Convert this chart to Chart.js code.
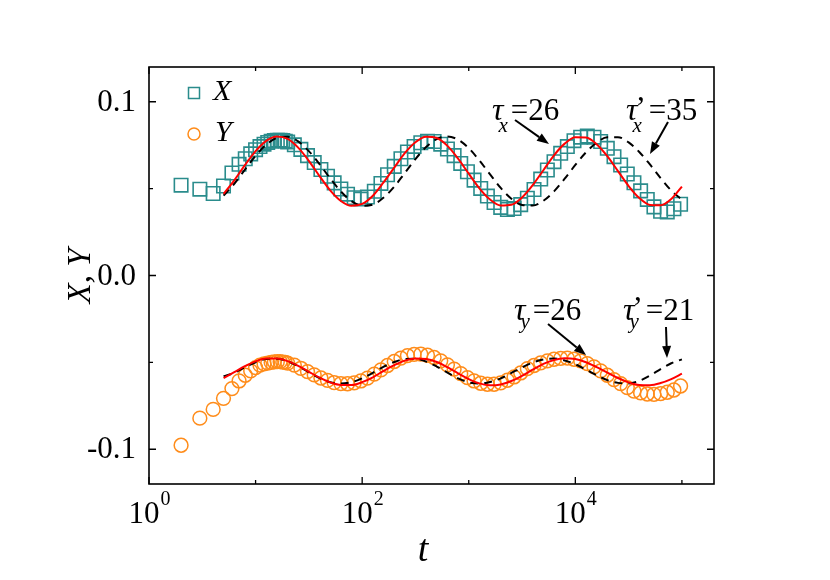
<!DOCTYPE html>
<html lang="en">
  <head>
    <meta charset="UTF-8" />
    <title>X, Y vs t</title>
    <script src="https://cdn.jsdelivr.net/npm/chart.js"></script>
    <style>
      body {
        margin: 0;
        background: #fff;
        font-family: "Liberation Serif", "Times New Roman", serif;
      }
      #wrap {
        width: 830px;
        height: 580px;
      }
      #warm {
        position: absolute;
        left: -9999px;
      }
    </style>
  </head>
  <body>
    <div id="warm">10 <i>X, Y t</i> &#964;</div>
    <div id="wrap"><canvas id="plot" width="830" height="580"></canvas></div>
    <script>
      // measured points (same t grid for X and Y)
      const tData = [
        2, 3, 4, 5, 6, 7, 8, 9, 10, 11, 12, 13, 14, 15, 16, 17, 18, 19, 20,
        23.1, 26.6, 30.7, 35.5, 41.0, 47.3, 54.6, 63.1, 72.9, 84.1, 97.2,
        112, 130, 150, 173, 200, 231, 266, 307, 355, 410, 473, 546, 631, 729,
        841, 972, 1122, 1295, 1496, 1728, 1995, 2305, 2661, 3073, 3548, 4097,
        4732, 5464, 6310, 7286, 8414, 9716, 11220, 12953, 14962, 17278, 19953,
        23052, 26607, 30726, 35481, 40973, 47315, 54639, 63096, 72862, 84140,
        97163,
      ];
      const xData = [
        0.052, 0.0497, 0.0472, 0.0515, 0.059, 0.064, 0.0672, 0.07, 0.0724,
        0.0742, 0.0756, 0.0766, 0.0773, 0.0777, 0.0779, 0.0779, 0.0777,
        0.0773, 0.0768, 0.0752, 0.0726, 0.069, 0.065, 0.061, 0.0571, 0.0533,
        0.0498, 0.0468, 0.0448, 0.044, 0.0452, 0.0485, 0.053, 0.058, 0.0628,
        0.0672, 0.0711, 0.0743, 0.0764, 0.0773, 0.0771, 0.0756, 0.0728, 0.069,
        0.0645, 0.0597, 0.0549, 0.0501, 0.0457, 0.042, 0.0392, 0.038, 0.0385,
        0.0408, 0.0445, 0.0495, 0.0555, 0.0607, 0.0655, 0.0703, 0.0742,
        0.0776, 0.0796, 0.0803, 0.0796, 0.0771, 0.0732, 0.0684, 0.0636,
        0.0584, 0.0534, 0.0487, 0.0438, 0.0395, 0.037, 0.0366, 0.0384, 0.041,
      ];
      const yData = [
        -0.0977, -0.0821, -0.0771, -0.0707, -0.0651, -0.0607, -0.0574,
        -0.0549, -0.053, -0.0516, -0.0509, -0.0504, -0.05, -0.0497, -0.0496,
        -0.0496, -0.0498, -0.05, -0.0504, -0.0516, -0.0534, -0.0553, -0.0572,
        -0.059, -0.0604, -0.0616, -0.0622, -0.0623, -0.0618, -0.0607, -0.0591,
        -0.0568, -0.0543, -0.0518, -0.0495, -0.0476, -0.0461, -0.0454,
        -0.0453, -0.0459, -0.0472, -0.0491, -0.0514, -0.0539, -0.0565,
        -0.0588, -0.0607, -0.062, -0.0626, -0.0626, -0.0618, -0.0603, -0.0584,
        -0.0561, -0.0536, -0.0518, -0.0503, -0.0491, -0.0482, -0.0477,
        -0.0476, -0.0482, -0.0491, -0.0507, -0.0526, -0.0549, -0.0574,
        -0.0599, -0.0622, -0.0645, -0.0665, -0.0676, -0.0682, -0.0684,
        -0.068, -0.0672, -0.0659, -0.0636,
      ];

      // fitted curves (tau) and (tau')
      const tFit = [
        5.01, 6.31, 7.94, 10, 12.6, 15.8, 20, 25.1, 31.6, 39.8, 50.1, 63.1,
        79.4, 100, 126, 158, 200, 251, 316, 398, 501, 631, 794, 1000, 1259,
        1585, 1995, 2512, 3162, 3981, 5012, 6310, 7943, 10000, 12589, 15849,
        19953, 25119, 31623, 39811, 50119, 63096, 79433, 100000,
      ];
      const xFit = [
        0.047, 0.0548, 0.0635, 0.0716, 0.0775, 0.08, 0.0786, 0.0736, 0.066,
        0.0572, 0.049, 0.0429, 0.0401, 0.0412, 0.0459, 0.0534, 0.0621,
        0.0704, 0.0767, 0.0798, 0.0791, 0.0746, 0.0673, 0.0586, 0.0502,
        0.0437, 0.0403, 0.0407, 0.0449, 0.052, 0.0606, 0.0692, 0.0759,
        0.0796, 0.0794, 0.0756, 0.0687, 0.0601, 0.0515, 0.0446, 0.0406,
        0.0404, 0.044, 0.0512,
      ];
      const xFitP = [
        0.046, 0.0528, 0.0609, 0.0689, 0.0753, 0.0792, 0.0798, 0.0772,
        0.0716, 0.0641, 0.0559, 0.0484, 0.0428, 0.0402, 0.0408, 0.0447,
        0.0511, 0.059, 0.067, 0.0739, 0.0785, 0.08, 0.0782, 0.0733, 0.0662,
        0.0582, 0.0504, 0.0442, 0.0406, 0.0403, 0.043, 0.0484, 0.0557,
        0.0636, 0.0709, 0.0765, 0.0796, 0.0796, 0.0766, 0.0711, 0.0639,
        0.0561, 0.0489, 0.0436,
      ];
      const yFit = [
        -0.059, -0.0556, -0.0522, -0.0494, -0.0478, -0.0478, -0.0493, -0.052,
        -0.0554, -0.0588, -0.0615, -0.063, -0.063, -0.0614, -0.0586, -0.055,
        -0.0516, -0.049, -0.0477, -0.048, -0.0498, -0.0528, -0.0563, -0.0596,
        -0.0621, -0.0632, -0.0627, -0.0607, -0.0577, -0.0542, -0.0509,
        -0.0486, -0.0476, -0.0481, -0.0499, -0.0527, -0.0559, -0.059,
        -0.0615, -0.063, -0.0631, -0.0619, -0.0596, -0.0565,
      ];
      const yFitP = [
        -0.058, -0.056, -0.0529, -0.0499, -0.0481, -0.0479, -0.0494, -0.0522,
        -0.0557, -0.059, -0.0614, -0.0622, -0.0614, -0.0592, -0.056, -0.0526,
        -0.0498, -0.0481, -0.0479, -0.0495, -0.0524, -0.0559, -0.0592,
        -0.0615, -0.0622, -0.0613, -0.0592, -0.0561, -0.0529, -0.0501,
        -0.0483, -0.0478, -0.0489, -0.0511, -0.0542, -0.0574, -0.0602,
        -0.0618, -0.0621, -0.0606, -0.0576, -0.0539, -0.0505, -0.0483,
      ];

      // axes
      const xMajor = [1, 100, 10000];
      const xExp = ["0", "2", "4"];
      const xMinor = [10, 1000, 100000];
      const yMajor = [-0.1, 0, 0.1];
      const yLabels = ["-0.1", "0.0", "0.1"];
      const yMinor = [-0.05, 0.05];

      const TEAL = "#2a8c8c";
      const ORANGE = "#ff8c1a";
      const SERIF = '"Liberation Serif", "Times New Roman", serif';

      const pts = (xs, ys) => xs.map((x, i) => ({ x, y: ys[i] }));

      function arrow(ctx, x1, y1, x2, y2) {
        const ang = Math.atan2(y2 - y1, x2 - x1);
        const L = 12, W = 4.5;
        const bx = x2 - L * Math.cos(ang), by = y2 - L * Math.sin(ang);
        ctx.beginPath();
        ctx.moveTo(x1, y1);
        ctx.lineTo(bx, by);
        ctx.stroke();
        ctx.beginPath();
        ctx.moveTo(x2, y2);
        ctx.lineTo(bx + W * Math.sin(ang), by - W * Math.cos(ang));
        ctx.lineTo(bx - W * Math.sin(ang), by + W * Math.cos(ang));
        ctx.closePath();
        ctx.fill();
      }

      // tau label: tau [prime] with subscript, then "=value"
      function tauLabel(ctx, x, y, sub, prime, rest) {
        ctx.textAlign = "left";
        ctx.textBaseline = "alphabetic";
        ctx.font = "italic 32px " + SERIF;
        ctx.fillText("\u03c4", x, y);
        const w = ctx.measureText("\u03c4").width;
        ctx.font = "italic 21px " + SERIF;
        ctx.fillText(sub, x + w - 5, y + (sub === "y" ? 8 : 12));
        let end = x + w - 5 + ctx.measureText(sub).width;
        if (prime) {
          ctx.font = "31px " + SERIF;
          ctx.fillText("\u2019", x + w - 2, y - 2);
          end = Math.max(end, x + w - 2 + ctx.measureText("\u2019").width);
        }
        ctx.font = "31px " + SERIF;
        ctx.fillText(rest, end + 3, y);
      }

      const decor = {
        id: "decor",
        afterDraw(chart) {
          const { ctx, chartArea: a, scales } = chart;
          const sx = scales.x, sy = scales.y;
          ctx.save();
          ctx.strokeStyle = "#000";
          ctx.fillStyle = "#000";

          // frame
          ctx.lineWidth = 1.6;
          ctx.strokeRect(a.left, a.top, a.right - a.left, a.bottom - a.top);

          // inward ticks on all sides
          ctx.lineWidth = 1.3;
          const vt = (px, len) => {
            ctx.beginPath();
            ctx.moveTo(px, a.bottom);
            ctx.lineTo(px, a.bottom - len);
            ctx.moveTo(px, a.top);
            ctx.lineTo(px, a.top + len);
            ctx.stroke();
          };
          const ht = (py, len) => {
            ctx.beginPath();
            ctx.moveTo(a.left, py);
            ctx.lineTo(a.left + len, py);
            ctx.moveTo(a.right, py);
            ctx.lineTo(a.right - len, py);
            ctx.stroke();
          };
          xMajor.forEach((v) => vt(sx.getPixelForValue(v), 7));
          xMinor.forEach((v) => vt(sx.getPixelForValue(v), 4));
          yMajor.forEach((v) => ht(sy.getPixelForValue(v), 7));
          yMinor.forEach((v) => ht(sy.getPixelForValue(v), 4));

          // y tick labels
          ctx.font = "31px " + SERIF;
          ctx.textAlign = "right";
          ctx.textBaseline = "middle";
          yMajor.forEach((v, i) =>
            ctx.fillText(yLabels[i], a.left - 13, sy.getPixelForValue(v) + 1)
          );

          // x tick labels 10^n
          ctx.textAlign = "left";
          ctx.textBaseline = "alphabetic";
          xMajor.forEach((v, i) => {
            const px = sx.getPixelForValue(v);
            ctx.font = "31px " + SERIF;
            const w1 = ctx.measureText("10").width;
            ctx.font = "20px " + SERIF;
            const w2 = ctx.measureText(xExp[i]).width;
            const x0 = px - (w1 + w2) / 2;
            ctx.font = "31px " + SERIF;
            ctx.fillText("10", x0, a.bottom + 39);
            ctx.font = "20px " + SERIF;
            ctx.fillText(xExp[i], x0 + w1 + 1, a.bottom + 21);
          });

          // axis titles
          ctx.font = "italic 38px " + SERIF;
          ctx.textAlign = "center";
          ctx.fillText("t", 423, 561);
          ctx.save();
          ctx.translate(81, 276);
          ctx.rotate(-Math.PI / 2);
          ctx.font = "italic 33px " + SERIF;
          ctx.textBaseline = "middle";
          ctx.fillText("X, Y", 0, 0);
          ctx.restore();

          // legend
          ctx.lineWidth = 1.5;
          ctx.strokeStyle = TEAL;
          ctx.strokeRect(188.5, 87.5, 11, 11);
          ctx.strokeStyle = ORANGE;
          ctx.beginPath();
          ctx.arc(194, 134, 6, 0, Math.PI * 2);
          ctx.stroke();
          ctx.fillStyle = "#000";
          ctx.font = "italic 30px " + SERIF;
          ctx.textAlign = "left";
          ctx.fillText("X", 213, 100);
          ctx.fillText("Y", 215, 141);

          // annotations
          tauLabel(ctx, 492, 120, "x", false, "=26");
          tauLabel(ctx, 626, 120, "x", true, "=35");
          tauLabel(ctx, 514, 320, "y", false, "=26");
          tauLabel(ctx, 623, 320, "y", true, "=21");
          ctx.strokeStyle = "#000";
          ctx.fillStyle = "#000";
          ctx.lineWidth = 2;
          arrow(ctx, 515, 120, 549, 144);
          arrow(ctx, 668, 122, 650, 154);
          arrow(ctx, 548, 324, 586, 355);
          arrow(ctx, 666, 327, 667, 358);
          ctx.restore();
        },
      };

      const fitLine = (data, color, dash, order) => ({
        data,
        showLine: true,
        borderColor: color,
        borderWidth: 2,
        borderDash: dash,
        pointRadius: 0,
        cubicInterpolationMode: "monotone",
        fill: false,
        order,
      });

      function draw() {
        new Chart(document.getElementById("plot"), {
          type: "scatter",
          data: {
            datasets: [
              {
                label: "X",
                data: pts(tData, xData),
                pointStyle: "rect",
                pointRadius: 9.5,
                borderColor: TEAL,
                backgroundColor: "rgba(0,0,0,0)",
                borderWidth: 1.6,
                order: 3,
              },
              {
                label: "Y",
                data: pts(tData, yData),
                pointStyle: "circle",
                pointRadius: 6.9,
                borderColor: ORANGE,
                backgroundColor: "rgba(0,0,0,0)",
                borderWidth: 1.5,
                order: 3,
              },
              fitLine(pts(tFit, xFitP), "#000", [8, 6], 2),
              fitLine(pts(tFit, yFitP), "#000", [8, 6], 2),
              fitLine(pts(tFit, xFit), "#ff0000", [], 1),
              fitLine(pts(tFit, yFit), "#ff0000", [], 1),
            ],
          },
          options: {
            responsive: false,
            animation: false,
            devicePixelRatio: 1,
            layout: { padding: { left: 149, right: 116, top: 67, bottom: 96 } },
            plugins: {
              legend: { display: false },
              tooltip: { enabled: false },
            },
            scales: {
              x: { type: "logarithmic", min: 1, max: 200000, display: false },
              y: { type: "linear", min: -0.12, max: 0.12, display: false },
            },
          },
          plugins: [decor],
        });
      }

      Promise.all([
        document.fonts.load('31px "Liberation Serif"'),
        document.fonts.load('italic 31px "Liberation Serif"'),
      ]).then(draw, draw);
    </script>
  </body>
</html>
